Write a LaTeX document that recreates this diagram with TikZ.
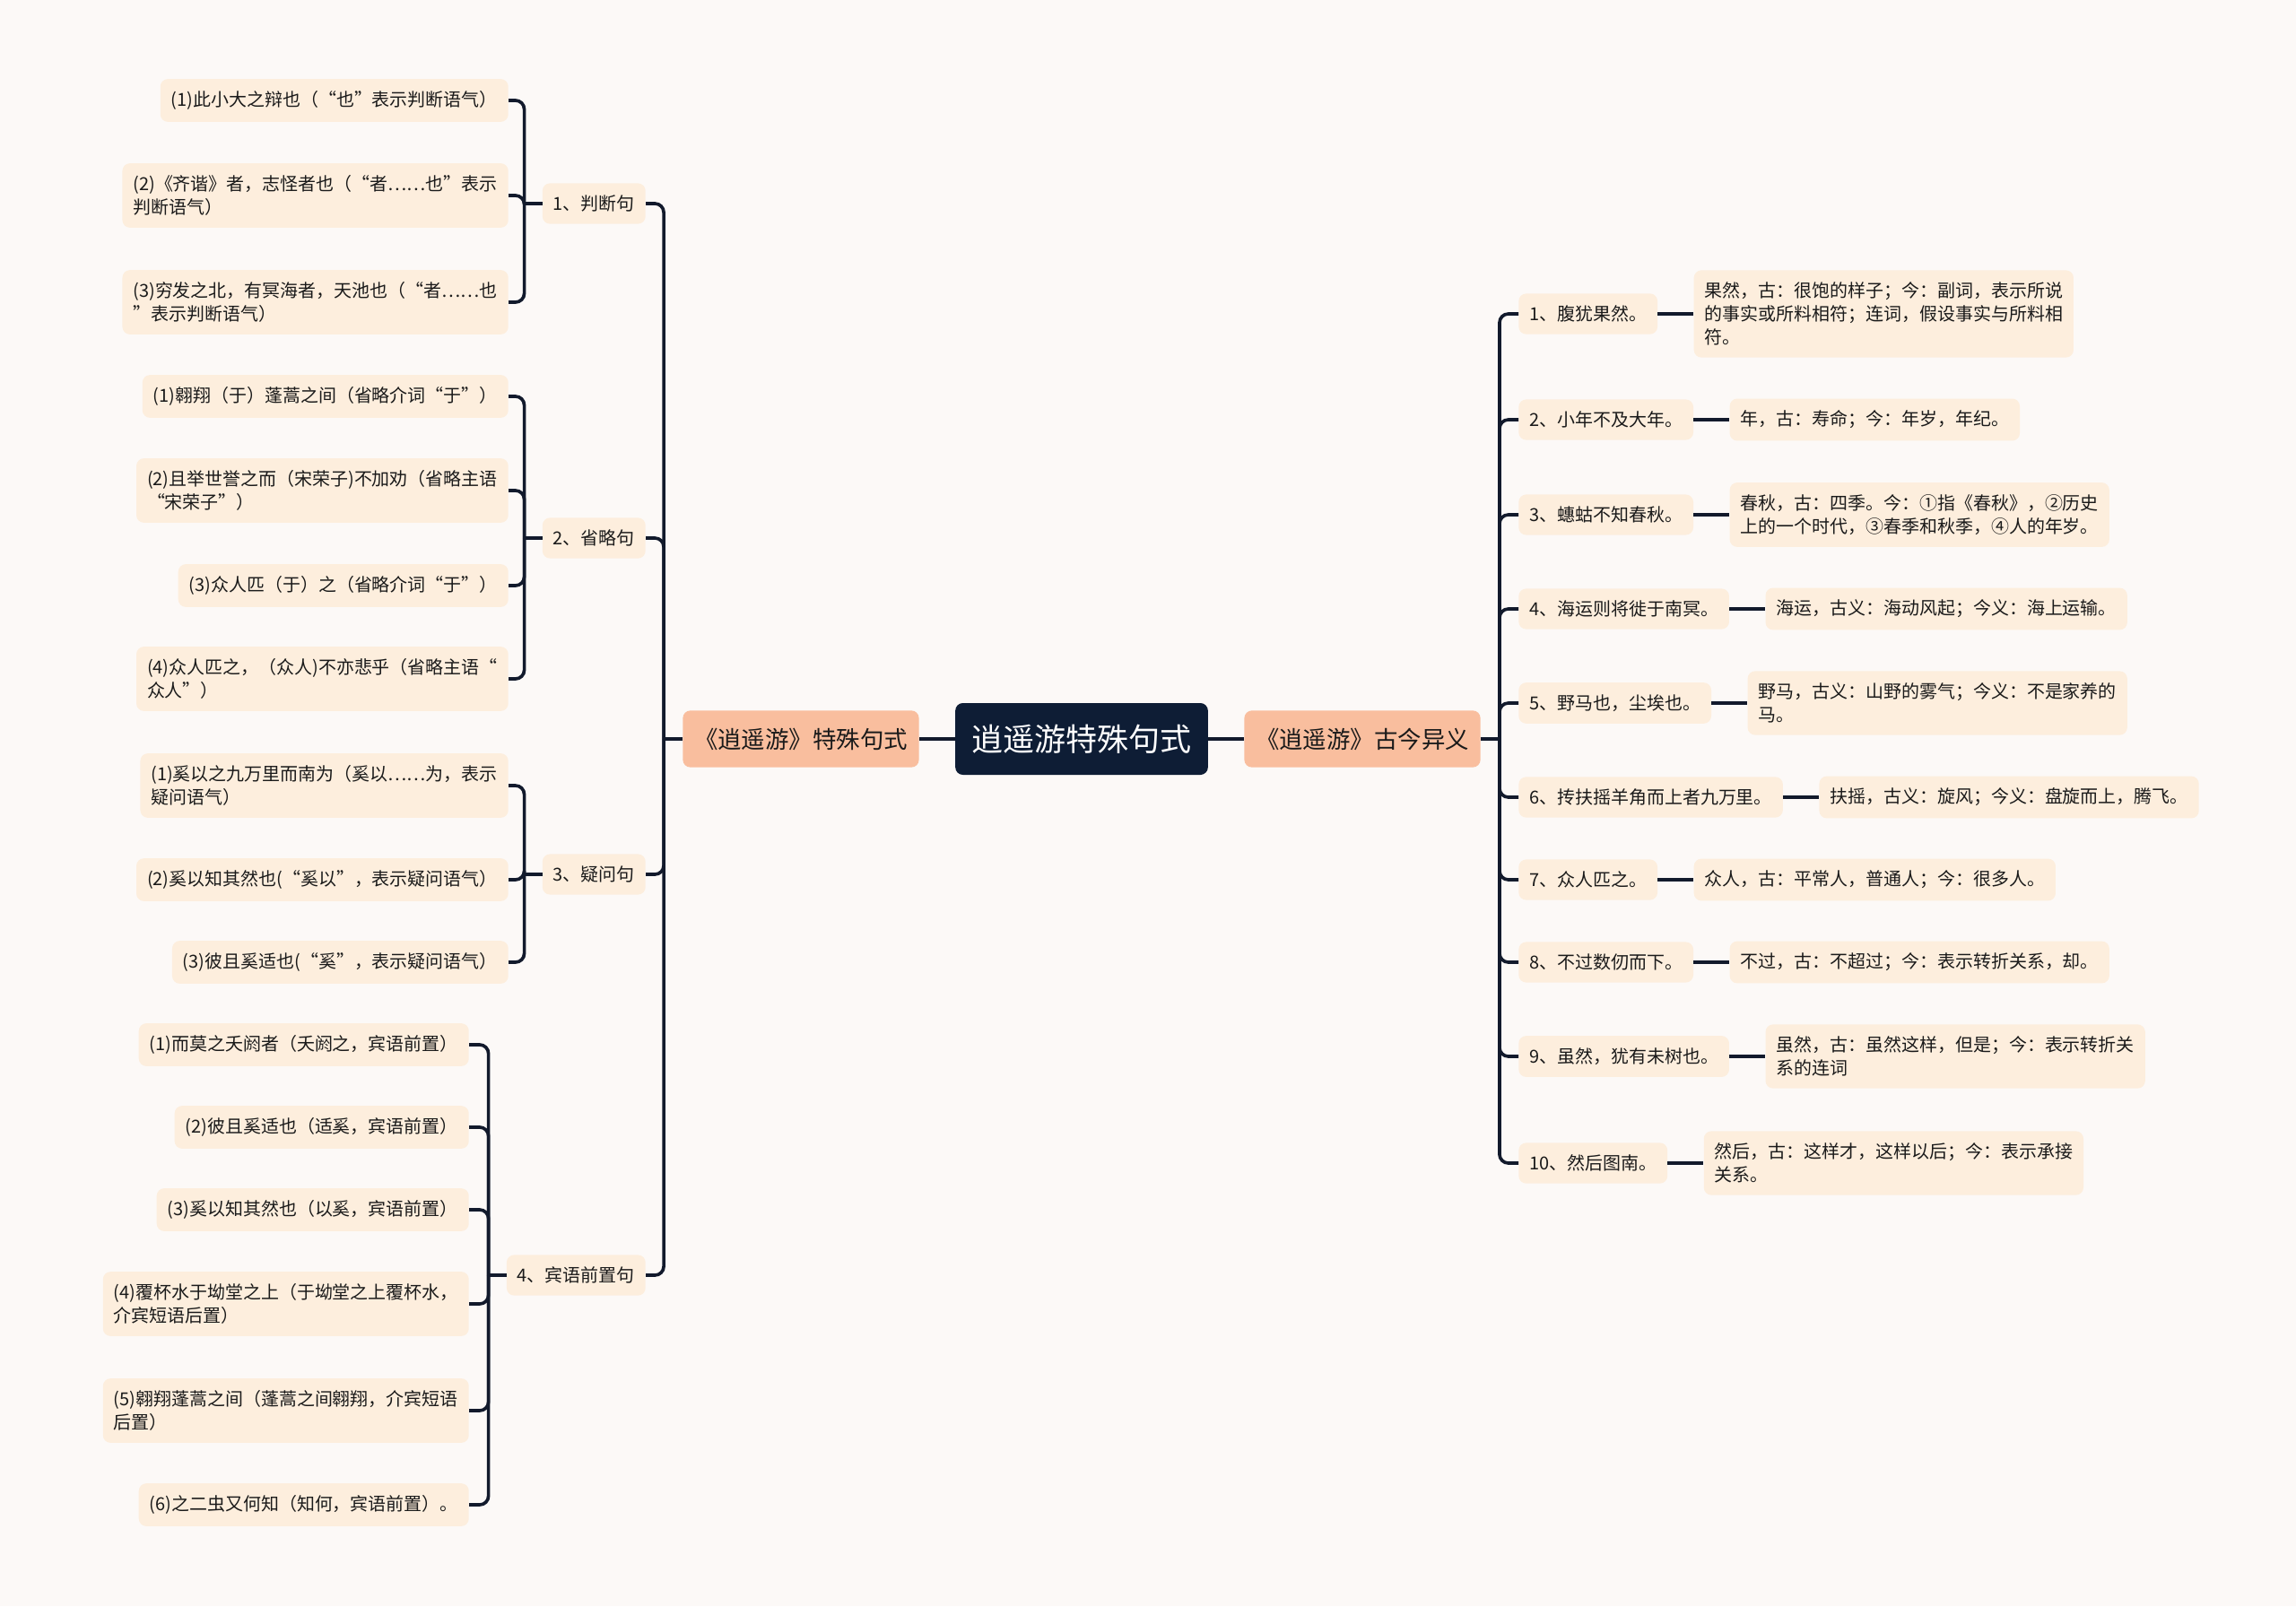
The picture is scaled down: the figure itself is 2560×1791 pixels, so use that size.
\documentclass[tikz,border=0pt]{standalone}
\usepackage{fontspec}
\setmainfont{Noto Sans CJK SC}
\usetikzlibrary{positioning,calc}
\definecolor{ssBg}{HTML}{FCF9F7}
\definecolor{ssNavy}{HTML}{0E1D35}
\definecolor{ssLine}{HTML}{121A2C}
\definecolor{ssSalmon}{HTML}{F9BE9E}
\definecolor{ssCream}{HTML}{FDEEDD}
\definecolor{ssText}{HTML}{1A1A1A}
\tikzset{
  rootbox/.style={
    rounded corners=6pt,
    fill=ssNavy,
    text=white,
    inner xsep=13pt,
    minimum height=56.9pt,
    font=\fontsize{24.9pt}{30pt}\selectfont
  },
  mainbox/.style={
    rounded corners=6pt,
    fill=ssSalmon,
    text=ssText,
    inner xsep=9pt,
    minimum height=45pt,
    font=\fontsize{18.8pt}{23pt}\selectfont
  },
  topicbox/.style={
    rounded corners=6pt,
    fill=ssCream,
    text=ssText,
    inner xsep=8.5pt,
    inner ysep=9.5pt,
    minimum height=31.3pt,
    align=left,
    font=\fontsize{14.2pt}{18.5pt}\selectfont
  },
  link/.style={
    draw=ssLine,
    line width=2.6pt,
    rounded corners=7pt
  }
}

\begin{document}
\begin{tikzpicture}[x=0.025cm,y=-0.025cm]

\fill[ssBg] (0,0) rectangle (2560,1791);
\useasboundingbox (0,0) rectangle (2560,1791);

\node[rootbox] (root) at (1206,824) {逍遥游特殊句式};
\node[mainbox, left=1cm of root] (lmain) {《逍遥游》特殊句式};
\node[mainbox, right=1cm of root] (rmain) {《逍遥游》古今异义};

\draw[link] (root) -- (lmain);
\draw[link] (root) -- (rmain);

% left: special sentence patterns
\node[topicbox, anchor=east] (jd) at (720,227) {1、判断句};
\node[topicbox, anchor=east] (sl) at (720,600) {2、省略句};
\node[topicbox, anchor=east] (yw) at (720,975) {3、疑问句};
\node[topicbox, anchor=east] (bq) at (720,1422) {4、宾语前置句};

\coordinate (lj) at ($(lmain.west)+(-21,0)$);
\draw[link] (lmain.west) -- (lj);
\foreach \n in {jd,sl,yw,bq}
  \draw[link] (lj) |- (\n.east);

\node[topicbox, anchor=east] (jd1) at (567,112) {(1)此小大之辩也（“也”表示判断语气）};
\node[topicbox, anchor=east] (jd2) at (567,218) {(2)《齐谐》者，志怪者也（“者……也”表示\\判断语气）};
\node[topicbox, anchor=east] (jd3) at (567,337) {(3)穷发之北，有冥海者，天池也（“者……也\\”表示判断语气）};

\node[topicbox, anchor=east] (sl1) at (567,442) {(1)翱翔（于）蓬蒿之间（省略介词“于”）};
\node[topicbox, anchor=east] (sl2) at (567,547) {(2)且举世誉之而（宋荣子)不加劝（省略主语\\“宋荣子”）};
\node[topicbox, anchor=east] (sl3) at (567,653) {(3)众人匹（于）之（省略介词“于”）};
\node[topicbox, anchor=east] (sl4) at (567,757) {(4)众人匹之，（众人)不亦悲乎（省略主语“\\众人”）};

\node[topicbox, anchor=east] (yw1) at (567,876) {(1)奚以之九万里而南为（奚以……为，表示\\疑问语气）};
\node[topicbox, anchor=east] (yw2) at (567,981) {(2)奚以知其然也(“奚以”，表示疑问语气）};
\node[topicbox, anchor=east] (yw3) at (567,1073) {(3)彼且奚适也(“奚”，表示疑问语气）};

\node[topicbox, anchor=east] (bq1) at (523,1165) {(1)而莫之夭阏者（夭阏之，宾语前置）};
\node[topicbox, anchor=east] (bq2) at (523,1257) {(2)彼且奚适也（适奚，宾语前置）};
\node[topicbox, anchor=east] (bq3) at (523,1349) {(3)奚以知其然也（以奚，宾语前置）};
\node[topicbox, anchor=east] (bq4) at (523,1454) {(4)覆杯水于坳堂之上（于坳堂之上覆杯水，\\介宾短语后置）};
\node[topicbox, anchor=east] (bq5) at (523,1573) {(5)翱翔蓬蒿之间（蓬蒿之间翱翔，介宾短语\\后置）};
\node[topicbox, anchor=east] (bq6) at (523,1678) {(6)之二虫又何知（知何，宾语前置）。};

\foreach \g/\list in {jd/{jd1,jd2,jd3},sl/{sl1,sl2,sl3,sl4},yw/{yw1,yw2,yw3},bq/{bq1,bq2,bq3,bq4,bq5,bq6}}{
  \coordinate (\g j) at ($(\g.west)+(-20,0)$);
  \draw[link] (\g.west) -- (\g j);
  \foreach \n in \list
    \draw[link] (\g j) |- (\n.east);
}

% right: old and new meanings
\node[topicbox, anchor=west] (r1) at (1693,350) {1、腹犹果然。};
\node[topicbox, anchor=west] (r2) at (1693,468) {2、小年不及大年。};
\node[topicbox, anchor=west] (r3) at (1693,574) {3、蟪蛄不知春秋。};
\node[topicbox, anchor=west] (r4) at (1693,679) {4、海运则将徙于南冥。};
\node[topicbox, anchor=west] (r5) at (1693,784) {5、野马也，尘埃也。};
\node[topicbox, anchor=west] (r6) at (1693,889) {6、抟扶摇羊角而上者九万里。};
\node[topicbox, anchor=west] (r7) at (1693,981) {7、众人匹之。};
\node[topicbox, anchor=west] (r8) at (1693,1073) {8、不过数仞而下。};
\node[topicbox, anchor=west] (r9) at (1693,1178) {9、虽然，犹有未树也。};
\node[topicbox, anchor=west] (r10) at (1693,1297) {10、然后图南。};

\node[topicbox, right=1cm of r1] (r1d) {果然，古：很饱的样子；今：副词，表示所说\\的事实或所料相符；连词，假设事实与所料相\\符。};
\node[topicbox, right=1cm of r2] (r2d) {年，古：寿命；今：年岁，年纪。};
\node[topicbox, right=1cm of r3] (r3d) {春秋，古：四季。今：①指《春秋》，②历史\\上的一个时代，③春季和秋季，④人的年岁。};
\node[topicbox, right=1cm of r4] (r4d) {海运，古义：海动风起；今义：海上运输。};
\node[topicbox, right=1cm of r5] (r5d) {野马，古义：山野的雾气；今义：不是家养的\\马。};
\node[topicbox, right=1cm of r6] (r6d) {扶摇，古义：旋风；今义：盘旋而上，腾飞。};
\node[topicbox, right=1cm of r7] (r7d) {众人，古：平常人，普通人；今：很多人。};
\node[topicbox, right=1cm of r8] (r8d) {不过，古：不超过；今：表示转折关系，却。};
\node[topicbox, right=1cm of r9] (r9d) {虽然，古：虽然这样，但是；今：表示转折关\\系的连词};
\node[topicbox, right=1cm of r10] (r10d) {然后，古：这样才，这样以后；今：表示承接\\关系。};

\coordinate (rj) at ($(rmain.east)+(21,0)$);
\draw[link] (rmain.east) -- (rj);
\foreach \n in {r1,r2,r3,r4,r5,r6,r7,r8,r9,r10}{
  \draw[link] (rj) |- (\n.west);
  \draw[link] (\n.east) -- (\n d.west);
}

\end{tikzpicture}
\end{document}
